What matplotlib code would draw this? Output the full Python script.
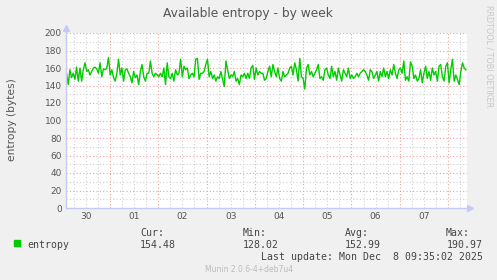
import numpy as np
import matplotlib
matplotlib.use("Agg")
import matplotlib.pyplot as plt
from matplotlib.lines import Line2D
from matplotlib.patches import Rectangle

# ---------------- data ----------------
title = "Available entropy - by week"
ylabel = "entropy (bytes)"
day_labels = ["30", "01", "02", "03", "04", "05", "06", "07"]
series_name = "entropy"
stat_names = ["Cur:", "Min:", "Avg:", "Max:"]
stat_values = ["154.48", "128.02", "152.99", "190.97"]
last_update = "Last update: Mon Dec  8 09:35:02 2025"
footer = "Munin 2.0.6-4+deb7u4"
side_text = "RRDTOOL / TOBI OETIKER"

# entropy samples (bytes), left to right
entropy = [
    154, 141, 158, 149, 154, 147, 161, 145, 160, 145, 158, 166, 156, 158, 152, 156,
    160, 161, 159, 154, 166, 150, 159, 158, 160, 172, 152, 158, 149, 145, 154, 170,
    152, 160, 145, 158, 159, 154, 150, 143, 156, 149, 152, 141, 156, 164, 150, 145,
    154, 154, 168, 154, 150, 154, 152, 150,
    154, 150, 160, 141, 166, 150, 148, 154, 145, 158, 152, 154, 170, 150, 162, 158,
    160, 148, 152, 154, 150, 170, 171, 147, 154, 154, 156, 164, 170, 150, 156, 148,
    152, 145, 150, 148, 156, 147, 139, 168, 158, 148, 152, 150, 156, 145, 148, 141,
    152, 150, 154, 148, 154, 148, 160, 163, 147, 160, 152, 156, 154,
    154, 146, 148, 156, 162, 150, 164, 156, 150, 160, 148, 145, 156, 150, 152, 154,
    160, 162, 152, 166, 158, 145, 171, 150, 148, 136, 160, 164, 152, 156, 150, 154,
    158, 164, 148, 150, 146, 158, 160, 152, 148, 162, 150, 156, 146, 160, 152, 145,
    158, 154, 150, 160, 148, 152, 148, 150, 154, 150, 154, 156, 158,
    156, 152, 146, 158, 156, 148, 152, 156, 145, 156, 150, 160, 150, 156, 148, 158,
    152, 164, 154, 148, 158, 160, 154, 168, 146, 150, 145, 167, 162, 148, 152, 145,
    148, 158, 143, 154, 162, 148, 156, 146, 160, 152, 156, 145, 162, 164, 150, 145,
    162, 166, 143, 158, 170, 145, 152, 147, 141, 156, 166, 160, 158,
]
# time span of the samples in days since Nov 30 00:00
t_first = 0.10
t_last = 8.37
x_min, x_max = 0.089, 8.393
y_min, y_max = 0, 200

# ---------------- figure ----------------
W, H = 497, 280
fig = plt.figure(figsize=(W / 100, H / 100), dpi=100, facecolor="#F0F0F0")
L, R, T, B = 66, 467, 33, 208
ax = fig.add_axes([L / W, 1 - B / H, (R - L) / W, (B - T) / H])
ax.set_facecolor("white")
ax.set_xlim(x_min, x_max)
ax.set_ylim(y_min, y_max)
for s in ax.spines.values():
    s.set_visible(False)

dot = (0, (1, 2))
minor_c = "#D0D0D0"
major_c = "#F0A0A0"
# minor grid
for v in range(0, 201, 10):
    if v % 20:
        ax.axhline(v, color=minor_c, lw=0.8, ls=dot, zorder=1)
for k in range(0, 40):
    xv = k * 0.25
    if k % 4 and x_min < xv < x_max:
        ax.axvline(xv, color=minor_c, lw=0.8, ls=dot, zorder=1)
# major grid
for v in range(20, 201, 20):
    ax.axhline(v, color=major_c, lw=0.8, ls=dot, zorder=2)
for d in range(1, 9):
    ax.axvline(d, color=major_c, lw=0.8, ls=dot, zorder=2)

times = np.linspace(t_first, t_last, len(entropy))
ax.plot(times, entropy, color="#00CC00", lw=1.0, zorder=5)

ax.set_yticks(range(0, 201, 20))
ax.set_xticks([i + 0.5 for i in range(len(day_labels))])
ax.set_xticklabels(day_labels)
ax.tick_params(axis="both", length=0, labelsize=6.5, colors="#555555", pad=3)

# axes lines with arrows
axc = "#C8C8F5"
fig.add_artist(Line2D([L / W, L / W], [1 - B / H, 1 - 29 / H], color=axc, lw=1))
fig.add_artist(Line2D([L / W, 469 / W], [1 - B / H, 1 - B / H], color=axc, lw=1))
fig.add_artist(Line2D([L / W], [1 - 28 / H], marker="^", color=axc, ms=4, lw=0))
fig.add_artist(Line2D([470 / W], [1 - B / H], marker=">", color=axc, ms=4, lw=0))

# texts
fig.text(248 / W, 1 - 13 / H, title, ha="center", va="center", fontsize=8.8, color="#555555")
fig.text(12 / W, 1 - 120 / H, ylabel, ha="center", va="center", rotation=90,
         fontsize=7.7, color="#555555")
fig.text(489 / W, 1 - 5 / H, side_text, ha="center", va="top", rotation=270,
         fontsize=5.8, color="#C8C8C8")

mono = "DejaVu Sans Mono"
fs = 7.1
tc = "#444444"
fig.add_artist(Rectangle((14 / W, 1 - 246 / H), 6 / W, 6 / H, color="#00CC00"))
fig.text(27 / W, 1 - 245.5 / H, series_name, ha="left", va="center", family=mono,
         fontsize=fs, color=tc)
xs = [140, 243, 345, 447]
for i, (n, v) in enumerate(zip(stat_names, stat_values)):
    if i < 3:
        fig.text(xs[i] / W, 1 - 233.5 / H, n, ha="left", va="center", family=mono, fontsize=fs, color=tc)
        fig.text(xs[i] / W, 1 - 245.5 / H, v, ha="left", va="center", family=mono, fontsize=fs, color=tc)
    else:
        fig.text(470 / W, 1 - 233.5 / H, n, ha="right", va="center", family=mono, fontsize=fs, color=tc)
        fig.text(483 / W, 1 - 245.5 / H, v, ha="right", va="center", family=mono, fontsize=fs, color=tc)
fig.text(483 / W, 1 - 257.5 / H, last_update, ha="right", va="center", family=mono,
         fontsize=fs, color=tc)
fig.text(249 / W, 1 - 269.5 / H, footer, ha="center", va="center", fontsize=5.5, color="#BBBBBB")

fig.savefig("out.png", dpi=100, facecolor=fig.get_facecolor())
